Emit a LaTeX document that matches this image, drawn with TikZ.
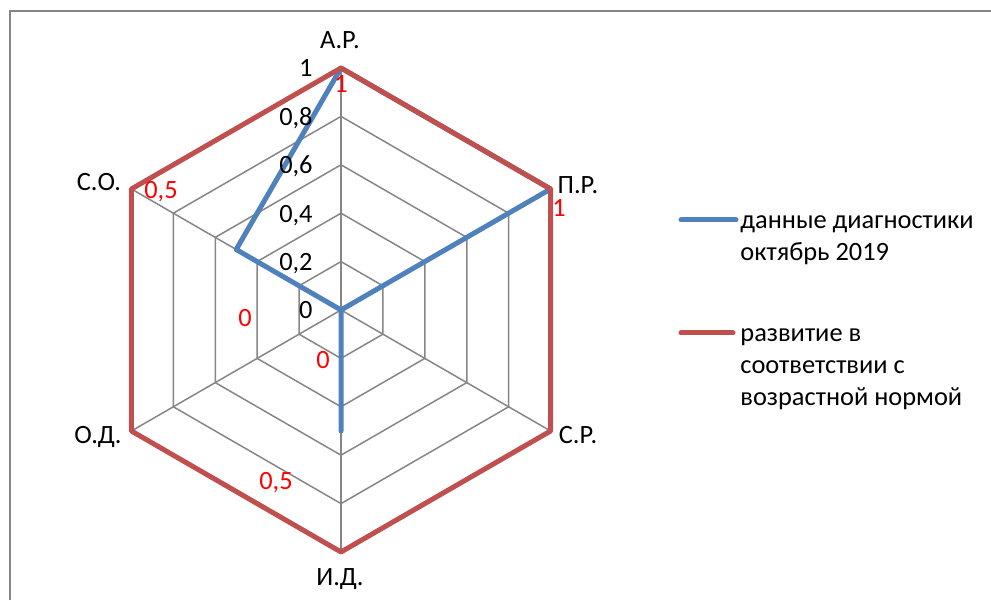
\documentclass[tikz,border=0pt]{standalone}
\usepackage{fontspec}
\setmainfont{Carlito}
\usetikzlibrary{calc}
\definecolor{seriesblue}{RGB}{79,129,189}
\definecolor{seriesred}{RGB}{192,80,77}
\definecolor{gridgray}{RGB}{134,134,134}
\tikzset{
    gridline/.style={draw=gridgray, line width=0.75pt},
    blueline/.style={draw=seriesblue, line width=2.5pt, line join=round, line cap=round},
    redline/.style={draw=seriesred, line width=2.5pt, line join=round, line cap=round},
    axislabel/.style={anchor=base, inner sep=0pt},
    ticklabel/.style={anchor=base east, inner sep=0pt},
    datalabel/.style={anchor=base, inner sep=0pt, text=red},
    legendtext/.style={anchor=north west, inner sep=0pt, align=left}
}

\begin{document}
\begin{tikzpicture}[x=0.5pt, y=0.5pt, font=\fontsize{13.2}{16}\selectfont]
    \useasboundingbox (0,0) rectangle (991,600);
    % frame of the chart area
    \draw[gridgray, line width=0.75pt] (10,0) -- (10,589) -- (991,589);

    \begin{scope}[shift={(341,290)}]
        \coordinate (c)  at (0,0);
        \coordinate (ar) at ( 90:242);
        \coordinate (pr) at ( 30:242);
        \coordinate (sr) at (-30:242);
        \coordinate (id) at (-90:242);
        \coordinate (od) at (210:242);
        \coordinate (so) at (150:242);
        % half values of the first series
        \coordinate (idh) at (-90:121);
        \coordinate (soh) at (150:121);

        % grid
        \foreach \k in {1,...,5}
            \draw[gridline] (90:48.4*\k) -- (30:48.4*\k) -- (-30:48.4*\k)
                -- (-90:48.4*\k) -- (210:48.4*\k) -- (150:48.4*\k) -- cycle;
        \foreach \p in {ar,pr,sr,id,od,so}
            \draw[gridline] (c) -- (\p);

        % series
        \draw[blueline] (ar) -- (pr) -- (c) -- (idh) -- (c) -- (soh) -- cycle;
        \draw[redline] (ar) -- (pr) -- (sr) -- (id) -- (od) -- (so) -- cycle;

        % axis names
        \node[axislabel] (arl) at (  -1, 261) {А.Р.};
        \node[axislabel] (prl) at ( 237, 116) {П.Р.};
        \node[axislabel] (srl) at ( 237,-134) {С.Р.};
        \node[axislabel] (idl) at (  -1,-276) {И.Д.};
        \node[axislabel] (odl) at (-243,-134) {О.Д.};
        \node[axislabel] (sol) at (-242, 119) {С.О.};

        % scale
        \foreach \k/\t in {0/0, 1/{0,2}, 2/{0,4}, 3/{0,6}, 4/{0,8}, 5/1}
            \node[ticklabel] (tick\k) at (-28, 48.4*\k-9) {\t};

        % data labels
        \node[datalabel] (dar) at (   0, 217) {1};
        \node[datalabel] (dpr) at ( 218,  93) {1};
        \node[datalabel] (dsr) at ( -18, -59) {0};
        \node[datalabel] (did) at ( -65,-180) {0,5};
        \node[datalabel] (dod) at ( -96, -17) {0};
        \node[datalabel] (dso) at (-180, 111) {0,5};
    \end{scope}

    % legend
    \coordinate (lb1) at (681,380);
    \coordinate (lb2) at (736,380);
    \coordinate (lr1) at (681,267);
    \coordinate (lr2) at (733,267);
    \draw[blueline] (lb1) -- (lb2);
    \draw[redline] (lr1) -- (lr2);
    \node[legendtext] (lbt) at (740,394) {\strut данные диагностики\\октябрь 2019};
    \node[legendtext] (lrt) at (740,281) {\strut развитие в\\соответствии с\\возрастной нормой};
\end{tikzpicture}
\end{document}
